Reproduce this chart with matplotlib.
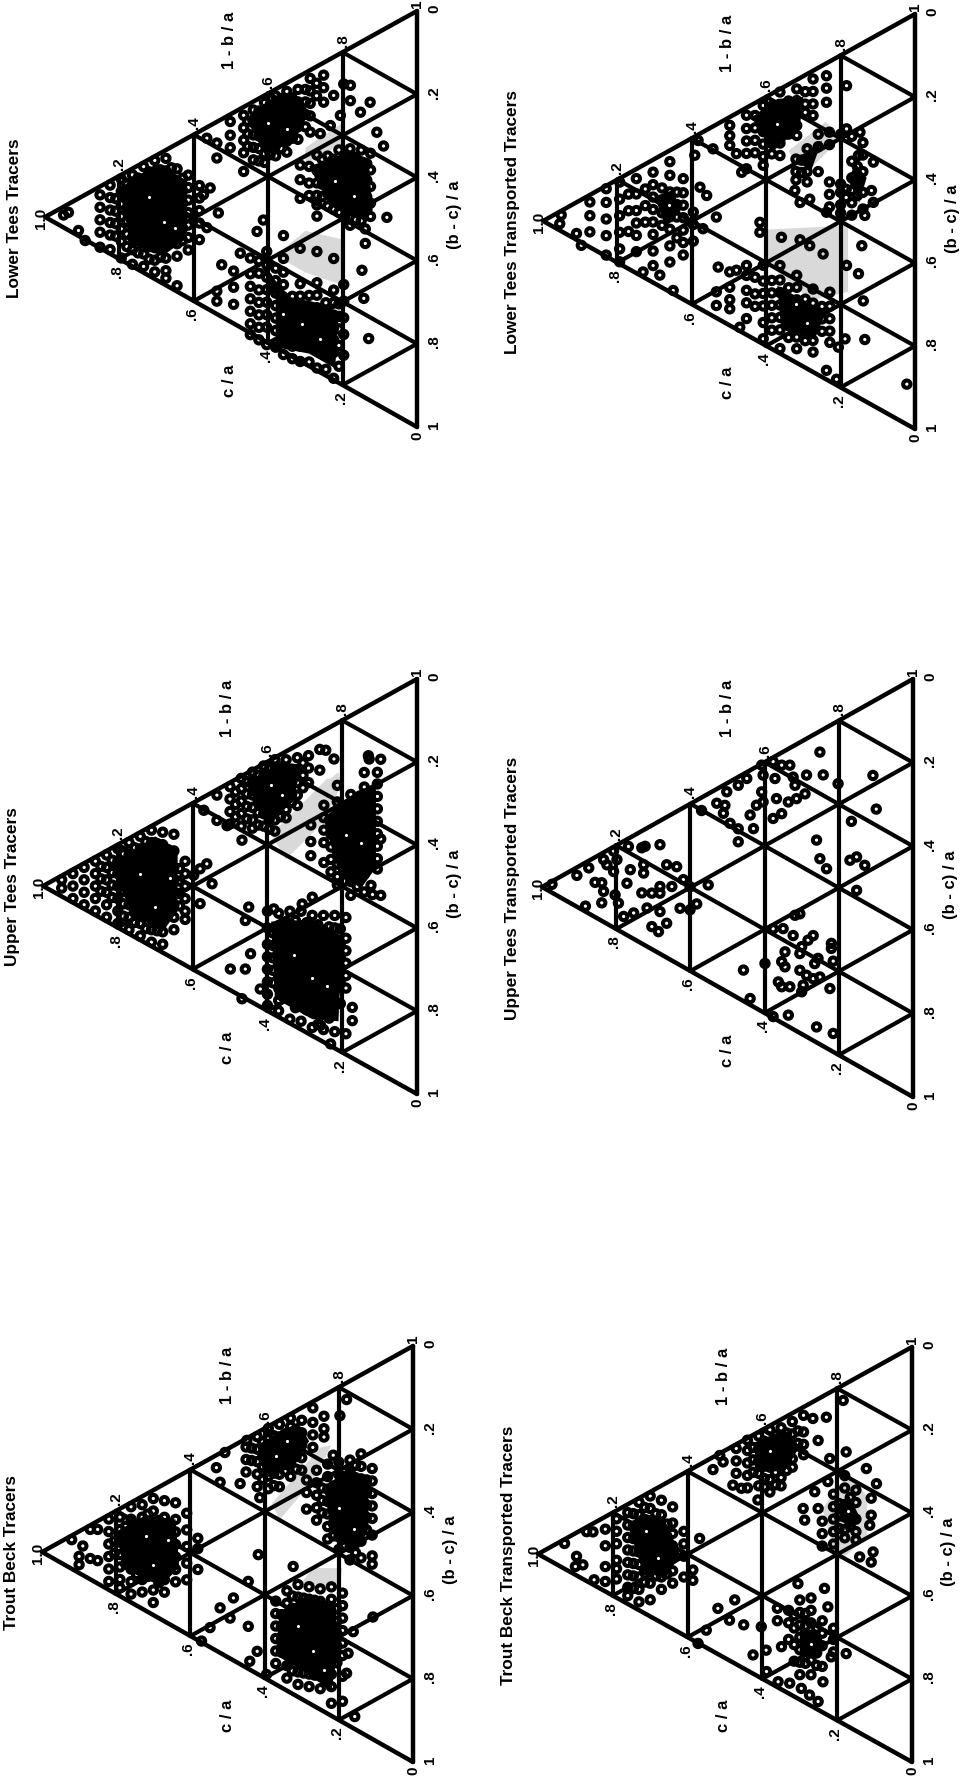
import matplotlib
matplotlib.use('Agg')
import matplotlib.pyplot as plt

plt.rcParams['font.family'] = ['Liberation Sans', 'DejaVu Sans']

# every panel: rows of (c/a, [(b-c)/a values])
trout_beck = [
    (.92, [.01]), (.89, [.04]), (.90, [.06, .08]), (.87, [.01, .08]), (.85, [.02, .095]),
    (.82, [.01, .04, .07, .10, .13, .16]),
    (.79, [.02, .05, .08, .11, .14, .17, .19]),
    (.76, [.01, .04, .07, .10, .13, .16, .19, .22]),
    (.73, [.02, .05, .08, .11, .14, .17, .20, .23]),
    (.70, [.02, .05, .08, .11, .14, .17, .20, .24, .27]),
    (.67, [.04, .08, .11, .14, .17, .20, .23, .26]),
    (.64, [.06, .10, .13, .16, .19, .22, .25]),
    (.61, [.10, .14, .18, .22, .26]),
    (.58, [.175, .20, .25]),
    (.53, [.03]), (.52, [.07]), (.507, [.005]), (.466, [.10]), (.448, [.005]),
    (.45, [.02, .05, .08]),
    (.42, [.01, .04, .07, .10, .13]),
    (.413, [.16]),
    (.39, [.005, .03, .06, .09, .12, .15]),
    (.36, [.01, .04, .07, .10, .13, .16]),
    (.33, [.01, .03, .06, .09, .12, .15]),
    (.30, [.03, .06, .09, .12, .15]),
    (.27, [.015, .05, .08, .11]),
    (.24, [.05, .08, .10]),
    (.197, [.07]), (.179, [.04]), (.215, [.156]),
    (.287, [.18, .21, .25]),
    (.26, [.17, .20, .23, .26, .29]),
    (.23, [.17, .20, .23, .26, .29, .32, .35]),
    (.20, [.18, .21, .24, .27, .30, .33, .36, .39]),
    (.17, [.19, .22, .25, .28, .31, .34, .37, .40, .43]),
    (.14, [.19, .22, .25, .28, .31, .34, .37, .40, .44]),
    (.11, [.24, .27, .30, .33, .36, .40, .45, .47]),
    (.52, [.372]), (.484, [.366]), (.493, [.41]), (.547, [.406]), (.57, [.427]),
    (.444, [.346, .454]), (.417, [.295]), (.42, [.526]), (.44, [.54]), (.395, [.594]),
    (.323, [.37]),
    (.37, [.43, .46, .49, .52, .55, .58]),
    (.34, [.42, .45, .48, .51, .54, .57, .60, .63]),
    (.31, [.42, .45, .48, .51, .54, .57, .60, .63, .66]),
    (.28, [.44, .47, .50, .53, .56, .59, .62, .65, .68]),
    (.25, [.46, .49, .52, .55, .58, .61, .64, .67, .70]),
    (.22, [.47, .50, .53, .56, .59, .62, .65, .68, .71, .75]),
    (.19, [.50, .53, .56, .59, .62, .65, .70, .76]),
    (.108, [.598]), (.161, [.607]), (.175, [.652]), (.179, [.698]), (.157, [.813]),
]
trout_beck_core = [
    (.805, [.07, .10]), (.775, [.05, .08, .11, .14]),
    (.745, [.06, .09, .12, .15, .18]), (.715, [.05, .08, .11, .14, .17, .20]),
    (.685, [.08, .11, .14, .17, .20, .23]), (.655, [.12, .15, .18, .21]),
    (.435, [.03, .06]), (.405, [.03, .06, .09, .12]), (.375, [.03, .06, .09, .12, .15]),
    (.345, [.04, .07, .10, .13]), (.315, [.05, .08, .11, .14]),
    (.245, [.22, .25, .28]), (.215, [.23, .26, .29, .32, .35]),
    (.185, [.21, .24, .27, .30, .33, .36, .39]),
    (.155, [.21, .24, .27, .30, .33, .36, .39, .42]),
    (.125, [.26, .29, .32, .35, .38]),
    (.355, [.47, .50, .53, .56]), (.325, [.44, .47, .50, .53, .56, .59, .62]),
    (.295, [.46, .49, .52, .55, .58, .61, .64]),
    (.265, [.48, .51, .54, .57, .60, .63, .66]),
    (.235, [.51, .54, .57, .60, .63, .66, .69]),
    (.205, [.53, .56, .59, .62, .66]),
]

trout_beck_transported = [
    (.929, [.01]), (.897, [.057]), (.90, [.08]), (.88, [.086]), (.87, [.011]), (.853, [.02]),
    (.85, [.137]),
    (.82, [.03, .07, .12, .156]),
    (.79, [.02, .05, .08, .12, .14, .165]),
    (.76, [.02, .05, .08, .11, .14, .17, .20, .22]),
    (.73, [.01, .04, .07, .10, .13, .16, .19, .22, .25]),
    (.70, [.01, .04, .07, .10, .13, .16, .19, .22, .26]),
    (.67, [.035, .07, .10, .13, .16, .19, .22, .25]),
    (.64, [.066, .105, .13, .16, .19, .22, .25]),
    (.61, [.14, .17, .20, .25]),
    (.586, [.245, .27]), (.568, [.178]),
    (.532, [.03]), (.505, [.025]), (.514, [.005]), (.479, [.094]), (.456, [.113]), (.412, [.163]),
    (.47, [.01, .04, .07]),
    (.44, [.005, .03, .06, .09, .12]),
    (.41, [.01, .04, .07, .10, .13]),
    (.38, [.01, .04, .07, .10, .13, .16]),
    (.35, [.02, .05, .08, .11, .14, .16]),
    (.32, [.02, .05, .08, .11, .13]),
    (.29, [.02, .06, .09, .115]),
    (.265, [.04]), (.229, [.055]), (.251, [.10]), (.22, [.159]), (.184, [.037]), (.176, [.165]),
    (.291, [.244]), (.287, [.274]), (.26, [.219]), (.251, [.264]), (.225, [.212]),
    (.109, [.31, .351, .464]), (.122, [.232]), (.095, [.282]), (.113, [.373]),
    (.14, [.436]), (.104, [.442]),
    (.24, [.30, .33, .36]),
    (.21, [.25, .28, .31, .34, .37]),
    (.18, [.22, .25, .29, .32, .35, .37]),
    (.15, [.27, .30, .34, .37, .39]),
    (.305, [.418]), (.234, [.465]), (.225, [.514]), (.474, [.373]), (.519, [.371]),
    (.488, [.415]), (.45, [.445]), (.403, [.473]), (.55, [.408]), (.572, [.429]),
    (.425, [.53]), (.39, [.536]), (.349, [.548]), (.176, [.651]), (.216, [.639]),
    (.238, [.688]), (.251, [.729]), (.274, [.702]), (.296, [.675]), (.327, [.647]),
    (.358, [.628]), (.389, [.588]),
    (.36, [.45, .48]),
    (.33, [.47, .50, .54]),
    (.30, [.46, .49, .52, .55, .58, .61, .64]),
    (.27, [.47, .50, .53, .56, .59, .62, .655]),
    (.24, [.54, .57, .60, .65]),
    (.21, [.573, .60, .63]),
]
trout_beck_transported_core = [
    (.745, [.03, .06, .09, .12, .15, .18, .21]), (.715, [.03, .06, .09, .12, .15, .18, .21]),
    (.685, [.06, .09, .12, .15, .18, .21]), (.655, [.10, .13, .16, .19, .22]),
    (.425, [.03, .06, .09]), (.395, [.03, .06, .09, .12, .14]),
    (.365, [.03, .06, .09, .12, .15]), (.335, [.04, .07, .10, .13]), (.305, [.05, .08]),
    (.195, [.28, .31, .34]), (.165, [.28, .32, .35]),
    (.315, [.49, .52, .56, .60]), (.285, [.50, .53, .56, .59, .62]), (.255, [.55, .58, .61, .64]),
]

upper_tees = [
    (.95, [.01, .03]), (.92, [.01, .04, .07]), (.89, [.01, .04, .07, .10]),
    (.86, [.01, .04, .07, .10, .13]),
    (.83, [.01, .04, .07, .10, .13, .16]),
    (.80, [.01, .04, .07, .10, .13, .16, .19]),
    (.77, [.01, .04, .07, .10, .13, .16, .19, .22]),
    (.74, [.01, .04, .07, .10, .13, .16, .19, .22, .25]),
    (.71, [.01, .04, .07, .10, .13, .16, .19, .22, .25, .28]),
    (.68, [.03, .06, .09, .12, .15, .18, .21, .24, .27, .30]),
    (.65, [.05, .09, .13, .16, .19, .22, .25, .28]),
    (.62, [.13, .16, .19, .22, .25, .27]),
    (.597, [.175]), (.58, [.168, .252]), (.562, [.165]), (.548, [.22]),
    (.57, [.032]), (.535, [.013, .074]), (.508, [.10]), (.468, [.155]),
    (.50, [.01, .04, .07, .10]),
    (.47, [.005, .03, .06, .09, .12]),
    (.44, [.005, .03, .06, .09, .12, .14]),
    (.41, [.005, .03, .06, .09, .12, .15]),
    (.38, [.005, .03, .06, .09, .12, .15, .177]),
    (.35, [.02, .05, .08, .11, .14, .16]),
    (.32, [.03, .06, .09, .12, .145]),
    (.29, [.04, .07, .105]),
    (.26, [.04, .09]), (.244, [.05]), (.222, [.082]), (.213, [.15]),
    (.284, [.21, .25, .284]),
    (.249, [.18, .21, .24, .27, .318]),
    (.213, [.19, .22, .25, .28, .31, .34, .37, .39]),
    (.177, [.19, .22, .25, .28, .31, .34, .37, .40, .433]),
    (.141, [.155, .19, .22, .25, .28, .31, .34, .37, .40, .443]),
    (.106, [.172, .20, .23, .26, .29, .32, .35, .38, .405]),
    (.13, [.12]), (.128, [.129]), (.097, [.145, .337, .473]), (.123, [.436]), (.119, [.46]),
    (.45, [.325]), (.459, [.353, .47]), (.383, [.363]), (.28, [.386]), (.307, [.389]),
    (.445, [.44]), (.499, [.45]), (.419, [.538]), (.468, [.537]),
    (.173, [.705, .737]), (.231, [.764]), (.258, [.706]),
    (.40, [.36, .40, .44, .47, .50, .53, .56, .587]),
    (.37, [.38, .41, .44, .47, .50, .53, .56, .59, .615]),
    (.34, [.39, .42, .45, .48, .51, .54, .57, .60, .65]),
    (.31, [.405, .44, .47, .50, .53, .56, .59, .62, .67]),
    (.28, [.43, .46, .49, .52, .55, .58, .61, .64, .70]),
    (.25, [.445, .48, .51, .54, .57, .60, .63, .66, .72]),
    (.22, [.46, .49, .52, .55, .58, .61, .64, .67, .74]),
    (.19, [.48, .53, .56, .59, .62, .65, .76]),
]
upper_tees_core = [
    (.845, [.03, .06, .09]), (.815, [.03, .06, .09, .12]),
    (.785, [.03, .06, .09, .12, .15, .18]), (.755, [.03, .06, .09, .12, .15, .18, .21]),
    (.725, [.03, .06, .09, .12, .15, .18, .21, .24]),
    (.695, [.05, .08, .11, .14, .17, .20, .23, .26]),
    (.665, [.08, .11, .14, .17, .20, .23]), (.635, [.14, .17, .20, .23]),
    (.485, [.03, .06, .09]), (.455, [.02, .05, .08, .11]), (.425, [.02, .05, .08, .11, .14]),
    (.395, [.02, .05, .08, .11, .14, .165]), (.365, [.03, .06, .09, .12, .15]),
    (.335, [.05, .08, .11, .13]), (.305, [.05, .08, .11]),
    (.23, [.23, .26, .29, .32, .35]), (.195, [.21, .24, .27, .30, .33, .36, .39]),
    (.16, [.21, .24, .27, .30, .33, .36, .39, .42]), (.125, [.21, .24, .27, .30, .33, .36, .39]),
    (.385, [.42, .45, .48, .51, .54]), (.355, [.41, .44, .47, .50, .53, .56, .59]),
    (.325, [.42, .45, .48, .51, .54, .57, .60, .63]),
    (.295, [.44, .47, .50, .53, .56, .59, .62, .65]),
    (.265, [.46, .49, .52, .55, .58, .61, .64, .67, .70]),
    (.235, [.48, .51, .54, .57, .60, .63, .66, .70]),
    (.205, [.50, .54, .57, .60, .63, .68]),
]

upper_tees_transported = [
    (.973, [.007]), (.906, [.019]), (.874, [.017]), (.883, [.104]), (.857, [.06]),
    (.839, [.07, .118]), (.834, [.093, .017]), (.825, [.034]), (.807, [.01, .059]),
    (.798, [.035]), (.803, [.117]), (.794, [.141]), (.78, [.18]), (.767, [.019]),
    (.762, [.077]), (.771, [.105]), (.753, [.185]), (.731, [.04, .148]), (.722, [.041]),
    (.726, [.083, .103]), (.717, [.191]), (.704, [.162, .242]),
    (.682, [.057, .157, .173, .217]), (.686, [.263]), (.664, [.254, .114]),
    (.637, [.132]), (.65, [.173]), (.619, [.172]), (.601, [.198, .253]), (.628, [.236]),
    (.583, [.248]), (.552, [.218]),
    (.57, [.031]), (.529, [.034]), (.502, [.02]), (.507, [.05]), (.511, [.067]),
    (.493, [.10]), (.471, [.124, .155, .02]), (.448, [.015]), (.439, [.107]), (.43, [.144]),
    (.422, [.092]), (.408, [.003, .067]), (.404, [.029, .093]), (.377, [.01, .146]),
    (.372, [.053]), (.354, [.146, .03]), (.368, [.103]), (.332, [.041]), (.323, [.074]),
    (.318, [.096]), (.336, [.127]), (.314, [.13]), (.287, [.087]), (.291, [.13]),
    (.251, [.05, .305]), (.242, [.109]), (.202, [.15]), (.108, [.177]), (.099, [.262]),
    (.166, [.258]), (.26, [.256]), (.233, [.338]), (.17, [.349]), (.152, [.35, .43]),
    (.13, [.381]),
    (.318, [.407]), (.305, [.41, .505, .545]), (.377, [.41, .62]), (.35, [.423]),
    (.323, [.453]), (.269, [.48, .583]), (.283, [.484]), (.30, [.491, .599]),
    (.22, [.523, .535]), (.345, [.481, .517]), (.354, [.50, .56]), (.256, [.541]),
    (.265, [.549]), (.215, [.568, .741]), (.287, [.566]), (.251, [.588]), (.363, [.544]),
    (.332, [.571]), (.296, [.585]), (.224, [.629]), (.457, [.469]), (.399, [.482]),
    (.439, [.546]), (.336, [.637]), (.26, [.703]),
]

lower_tees = [
    (.937, [.02]), (.91, [.077]), (.892, [.11]), (.95, [.02]),
    (.852, [.02, .05, .08, .11, .146]),
    (.825, [.01, .04, .07, .10, .13, .165]),
    (.795, [.01, .04, .07, .10, .13, .16, .20]),
    (.765, [.015, .045, .075, .105, .135, .165, .195, .23]),
    (.735, [.01, .04, .07, .10, .13, .16, .19, .22, .25]),
    (.705, [.01, .04, .07, .10, .13, .16, .19, .22, .25, .278]),
    (.675, [.02, .05, .08, .11, .14, .17, .20, .23, .26, .29, .308]),
    (.645, [.06, .09, .12, .15, .18, .21, .24, .27, .341]),
    (.615, [.09, .12, .15, .18, .21, .24, .27]),
    (.585, [.13, .16, .19, .22, .26]),
    (.556, [.15]), (.574, [.157]), (.538, [.087]), (.534, [.221]), (.565, [.241]),
    (.538, [.051]), (.565, [.026]),
    (.502, [.017, .05, .08]),
    (.466, [.02, .05, .08, .11, .155]),
    (.44, [.02, .05, .08, .11, .14]),
    (.41, [.017, .05, .08, .11, .14, .161]),
    (.38, [.016, .045, .075, .105, .135, .16]),
    (.35, [.02, .05, .08, .11, .14, .166]),
    (.32, [.03, .06, .09, .12, .15]),
    (.287, [.02, .05, .08, .11, .149]),
    (.251, [.03, .06, .095]),
    (.224, [.092]), (.197, [.078]), (.179, [.09, .127]), (.152, [.168]), (.126, [.157]),
    (.26, [.166]), (.233, [.16]), (.206, [.149]), (.108, [.238]), (.09, [.28]),
    (.314, [.215, .25, .295]),
    (.269, [.213, .25, .28, .31, .333, .36]),
    (.24, [.23, .26, .29, .32, .35]),
    (.21, [.23, .26, .29, .32, .35, .38]),
    (.18, [.242, .27, .30, .33, .36, .39, .426]),
    (.15, [.26, .29, .32, .35, .38, .41, .43]),
    (.125, [.28, .32, .36, .40, .432]),
    (.081, [.456]), (.139, [.49, .455]), (.148, [.55]), (.143, [.62]), (.13, [.723]),
    (.525, [.35]), (.475, [.347]), (.359, [.362]), (.413, [.298]), (.43, [.317]),
    (.538, [.407, .431]),
    (.493, [.381, .42, .461]),
    (.448, [.372, .41, .44, .47, .50, .53, .556]),
    (.404, [.378, .41, .44, .47, .50, .53, .56, .602]),
    (.359, [.417, .45, .48, .51, .54, .57, .60, .648]),
    (.314, [.415, .50, .53, .56, .59, .62, .65, .687]),
    (.269, [.445, .52, .55, .58, .61, .64, .67, .725]),
    (.224, [.484, .56, .59, .62, .65, .68, .71, .772]),
    (.197, [.56, .60, .64, .68, .73]),
]
lower_tees_core = [
    (.81, [.05, .08, .11, .14]), (.78, [.03, .06, .09, .12, .15, .18]),
    (.75, [.03, .06, .09, .12, .15, .18, .21]), (.72, [.03, .06, .09, .12, .15, .18, .21, .24]),
    (.69, [.04, .07, .10, .13, .16, .19, .22, .25]), (.66, [.05, .08, .11, .14, .17, .20, .23]),
    (.63, [.09, .12, .15, .18, .21, .24]),
    (.455, [.04, .07, .10]), (.425, [.03, .06, .09, .12, .15]), (.395, [.03, .06, .09, .12, .15]),
    (.365, [.03, .06, .09, .12, .15]), (.335, [.05, .08, .11, .14]),
    (.30, [.04, .07, .10, .13]), (.27, [.04, .07]),
    (.29, [.23, .27, .30]), (.255, [.23, .26, .29, .32]), (.225, [.245, .275, .305, .335, .365]),
    (.195, [.25, .28, .31, .34, .37, .40]), (.165, [.27, .30, .33, .36, .39, .42]),
    (.135, [.30, .34, .38, .41]),
    (.425, [.39, .42, .46, .49, .52, .55, .58]), (.38, [.43, .46, .49, .52, .55, .58, .62]),
    (.335, [.52, .55, .58, .61, .64, .67]), (.29, [.54, .57, .60, .63, .66, .70]),
    (.245, [.58, .61, .64, .67, .70, .74]), (.21, [.60, .63, .66, .70, .75]),
]

lower_tees_transported = [
    (.951, [.01]), (.955, [.029]), (.91, [.075]), (.897, [.11]),
    (.874, [.017, .05, .089]),
    (.83, [.007, .04, .08, .12, .167]),
    (.794, [.009, .05, .09, .13, .17, .201]),
    (.749, [.023, .06, .10, .13, .16, .199]),
    (.704, [.03, .06, .09, .12, .15, .18, .22, .255]),
    (.659, [.027, .06, .10, .13, .16, .19, .23, .269]),
    (.623, [.086, .12, .15, .18, .21, .24, .27]),
    (.596, [.18, .21, .25]),
    (.56, [.158]), (.578, [.129]), (.534, [.223]), (.57, [.233]), (.65, [.342]),
    (.686, [.287]), (.731, [.257]),
    (.498, [.02, .045, .068]),
    (.453, [.018, .05, .08, .11, .147]),
    (.408, [.017, .05, .08, .11, .14, .161]),
    (.363, [.007, .04, .07, .10, .13, .16]),
    (.318, [.022, .05, .08, .11, .134]),
    (.274, [.02, .05, .08, .108]),
    (.238, [.03, .06, .094]),
    (.583, [.014]), (.592, [.045]), (.543, [.054]), (.48, [.097]), (.466, [.149]),
    (.184, [.081, .185]), (.148, [.211]),
    (.117, [.367]), (.135, [.418]), (.112, [.398, .301]), (.152, [.265]),
    (.309, [.30]), (.283, [.305]), (.323, [.264]), (.238, [.359]),
    (.32, [.19, .22, .24]),
    (.29, [.18, .21, .235, .26]),
    (.26, [.16, .19, .25]),
    (.23, [.17, .20, .29, .32, .35]),
    (.20, [.19, .31, .33, .36, .38]),
    (.17, [.21, .27, .31, .34, .37, .40]),
    (.14, [.24, .27, .31, .36, .40]),
    (.529, [.346]), (.48, [.378]), (.453, [.38]), (.359, [.359]), (.417, [.294, .318]),
    (.247, [.455]), (.309, [.39]), (.283, [.417]), (.143, [.487]), (.152, [.55]),
    (.184, [.514]), (.139, [.622]), (.135, [.717]), (.022, [.881]), (.238, [.74]),
    (.211, [.775]), (.188, [.689]), (.206, [.70]), (.471, [.52]),
    (.534, [.403, .436]),
    (.498, [.373, .41, .44, .462]),
    (.453, [.404, .44, .47, .508]),
    (.408, [.402, .44, .47, .50, .54, .579]),
    (.363, [.425, .46, .49, .52, .55, .58, .625]),
    (.318, [.471, .50, .53, .56, .59, .62, .648]),
    (.274, [.526, .56, .59, .62, .65, .678]),
    (.229, [.556, .59, .62, .65, .677]),
]
lower_tees_transported_core = [
    (.77, [.05, .09, .14]), (.725, [.06, .10, .14]), (.68, [.08, .11, .14, .17]),
    (.64, [.11, .14, .17, .22]),
    (.43, [.03, .06, .09, .12]), (.385, [.03, .06, .09, .12, .145]),
    (.34, [.04, .07, .10, .12]), (.295, [.04, .07, .09]),
    (.305, [.20, .23]), (.185, [.33, .35]), (.155, [.29, .33, .36]),
    (.43, [.42, .46, .49]), (.385, [.45, .48, .51, .54, .57]),
    (.34, [.49, .52, .55, .58, .61]), (.295, [.54, .57, .60, .64]), (.25, [.58, .61, .64]),
]

# grey scanned patches, outlines as (c/a, (b-c)/a)
trout_beck_grey = [
    [(.38, .19), (.25, .12), (.22, .13), (.27, .19), (.36, .24)],
    [(.27, .40), (.19, .44), (.20, .48), (.30, .42)],
]
trout_beck_transported_grey = [
    [(.24, .27), (.17, .22), (.12, .30), (.12, .40), (.20, .42)],
]
upper_tees_grey = [
    [(.39, .18), (.24, .12), (.20, .15), (.25, .22), (.35, .26)],
    [(.21, .12), (.20, .16), (.24, .18), (.26, .13)],
]
upper_tees_transported_grey = []
lower_tees_grey = [
    [(.38, .40), (.30, .38), (.20, .45), (.20, .56), (.30, .48)],
    [(.30, .18), (.20, .17), (.20, .22), (.30, .22)],
]
lower_tees_transported_grey = [
    [(.40, .32), (.18, .42), (.18, .58), (.28, .55), (.40, .40)],
    [(.34, .16), (.24, .14), (.20, .20), (.30, .24)],
]

# areas where the rings have merged into solid ink, outlines as (c/a, (b-c)/a)
trout_beck_ink = [
    [(.80, .05), (.78, .15), (.68, .24), (.63, .22), (.64, .10), (.72, .05)],
    [(.42, .03), (.40, .12), (.33, .13), (.28, .09), (.31, .03)],
    [(.24, .22), (.22, .34), (.15, .42), (.12, .38), (.12, .26), (.17, .21)],
    [(.36, .46), (.37, .56), (.30, .63), (.22, .72), (.20, .62), (.21, .52), (.28, .46)],
]
trout_beck_transported_ink = [
    [(.76, .05), (.72, .18), (.66, .23), (.62, .19), (.66, .09), (.72, .04)],
    [(.42, .02), (.42, .09), (.34, .13), (.30, .09), (.34, .03)],
    [(.30, .53), (.30, .60), (.24, .62), (.25, .56)],
    [(.20, .29), (.17, .36), (.14, .34), (.17, .27)],
]
upper_tees_ink = [
    [(.82, .04), (.76, .19), (.68, .27), (.64, .24), (.64, .09), (.70, .03)],
    [(.46, .02), (.40, .15), (.33, .13), (.31, .05), (.37, .02)],
    [(.25, .21), (.21, .36), (.15, .43), (.11, .40), (.11, .20), (.16, .19)],
    [(.39, .39), (.38, .58), (.28, .68), (.21, .72), (.20, .52), (.28, .44)],
]
upper_tees_transported_ink = []
lower_tees_ink = [
    [(.80, .03), (.77, .18), (.68, .25), (.62, .24), (.62, .10), (.70, .02)],
    [(.46, .03), (.41, .14), (.33, .15), (.29, .10), (.33, .03), (.40, .02)],
    [(.29, .23), (.24, .34), (.16, .42), (.12, .42), (.13, .29), (.18, .25)],
    [(.42, .40), (.38, .50), (.38, .62), (.29, .68), (.22, .75), (.21, .62), (.28, .56), (.34, .52)],
]
lower_tees_transported_ink = [
    [(.70, .09), (.67, .18), (.63, .16), (.65, .10)],
    [(.44, .03), (.38, .14), (.31, .12), (.30, .05), (.37, .02)],
    [(.32, .19), (.28, .24), (.25, .18)],
    [(.18, .31), (.15, .38), (.13, .33), (.16, .28)],
    [(.37, .47), (.36, .58), (.27, .65), (.24, .60), (.30, .54)],
]

# small white gaps left inside the solid ink, as (c/a, (b-c)/a)
trout_beck_gaps = [(.72, .10), (.70, .18), (.66, .14), (.37, .08), (.34, .06), (.20, .29),
                   (.16, .36), (.31, .52), (.27, .60), (.24, .66)]
trout_beck_transported_gaps = [(.71, .09), (.68, .17), (.38, .06), (.27, .58), (.17, .31)]
upper_tees_gaps = [(.74, .10), (.70, .20), (.66, .15), (.39, .06), (.36, .10), (.19, .28),
                   (.15, .32), (.33, .50), (.28, .58), (.24, .62)]
upper_tees_transported_gaps = []
lower_tees_gaps = [(.72, .09), (.68, .17), (.65, .20), (.40, .07), (.35, .11), (.22, .30),
                   (.17, .36), (.36, .55), (.31, .60), (.26, .66)]
lower_tees_transported_gaps = [(.66, .13), (.37, .08), (.32, .54), (.29, .60)]

titles = ['Trout Beck Tracers', 'Trout Beck Transported Tracers', 'Upper Tees Tracers',
          'Upper Tees Transported Tracers', 'Lower Tees Tracers', 'Lower Tees Transported Tracers']
panel_points = [trout_beck + trout_beck_core,
                trout_beck_transported + trout_beck_transported_core,
                upper_tees + upper_tees_core,
                upper_tees_transported,
                lower_tees + lower_tees_core,
                lower_tees_transported + lower_tees_transported_core]
panel_grey = [trout_beck_grey, trout_beck_transported_grey, upper_tees_grey,
              upper_tees_transported_grey, lower_tees_grey, lower_tees_transported_grey]
panel_ink = [trout_beck_ink, trout_beck_transported_ink, upper_tees_ink,
             upper_tees_transported_ink, lower_tees_ink, lower_tees_transported_ink]
panel_gaps = [trout_beck_gaps, trout_beck_transported_gaps, upper_tees_gaps,
              upper_tees_transported_gaps, lower_tees_gaps, lower_tees_transported_gaps]
ticks = [.2, .4, .6, .8]
tick_labels = ['.2', '.4', '.6', '.8']

# apex x, apex y, base x, top y, bottom y of each triangle on the page
layout = [(42, 1553, 413, 1347, 1763),
          (538, 1555, 912, 1348, 1763),
          (43, 887, 417, 680, 1095),
          (542, 888, 913, 680, 1098),
          (45, 218, 417, 12, 428),
          (543, 222, 915, 15, 430)]

fig = plt.figure(figsize=(9.6, 17.83), dpi=100)
ax = fig.add_axes([0, 0, 1, 1])
ax.set_xlim(0, 960)
ax.set_ylim(1783, 0)
ax.axis('off')


def to_page(box, c, t):
    ax_, ay, bx, ty, by = box
    s = 1 - c - t
    return c * ax_ + (1 - c) * bx, c * ay + s * ty + t * by


def seg(box, p, q, lw):
    x0, y0 = to_page(box, *p)
    x1, y1 = to_page(box, *q)
    ax.plot([x0, x1], [y0, y1], color='black', lw=lw, solid_capstyle='round', zorder=2)


def label(x, y, txt, size=11):
    ax.text(x, y, txt, rotation=90, ha='center', va='center', fontsize=size,
            fontweight='bold', color='black', zorder=6)


for i in range(6):
    box = layout[i]
    apx, apy, bx, ty, by = box

    for shape in panel_grey[i]:
        xy = [to_page(box, c, t) for c, t in shape]
        ax.fill([p[0] for p in xy], [p[1] for p in xy], color='#d9d9d9', lw=0, zorder=1)

    # outline and inner grid
    seg(box, (1, 0), (0, 0), 3.2)
    seg(box, (1, 0), (0, 1), 3.2)
    seg(box, (0, 0), (0, 1), 3.2)
    for g in ticks:
        seg(box, (g, 0), (g, 1 - g), 3.0)
        seg(box, (g, 0), (0, g), 3.0)
        seg(box, (g, 1 - g), (0, 1 - g), 3.0)

    for shape in panel_ink[i]:
        xy = [to_page(box, c, t) for c, t in shape]
        ax.fill([p[0] for p in xy], [p[1] for p in xy], color='black', lw=0, zorder=3)

    xs, ys = [], []
    for c, row in panel_points[i]:
        for t in row:
            x, y = to_page(box, c, t)
            xs.append(x)
            ys.append(y)
    ax.scatter(xs, ys, s=28, facecolors='none', edgecolors='black', linewidths=2.9, zorder=4)

    if panel_gaps[i]:
        gaps = [to_page(box, c, t) for c, t in panel_gaps[i]]
        ax.scatter([p[0] for p in gaps], [p[1] for p in gaps], s=5, color='white',
                   linewidths=0, zorder=5)

    for g, txt in zip(ticks, tick_labels):
        x, y = to_page(box, 0, g)
        label(x + 17, y - 3, txt)
        x, y = to_page(box, 1 - g, 0)
        label(x, y - 13, txt)
        x, y = to_page(box, g, 1 - g)
        label(x - 2, y + 12, txt)
    label(bx + 17, ty - 3, '0')
    label(bx, ty - 8, '1')
    label(bx + 17, by - 3, '1')
    label(bx, by + 8, '0')
    label(apx - 4, apy, '1.0')

    label(apx - 30, apy, titles[i], 12.4)
    label(apx + 185, ty + 28, '1 - b / a', 12)
    label(apx + 185, by - 47, 'c / a', 12)
    label(bx + 37, apy - 3, '(b - c) / a', 12)

fig.savefig('out.png', dpi=100, facecolor='white')
